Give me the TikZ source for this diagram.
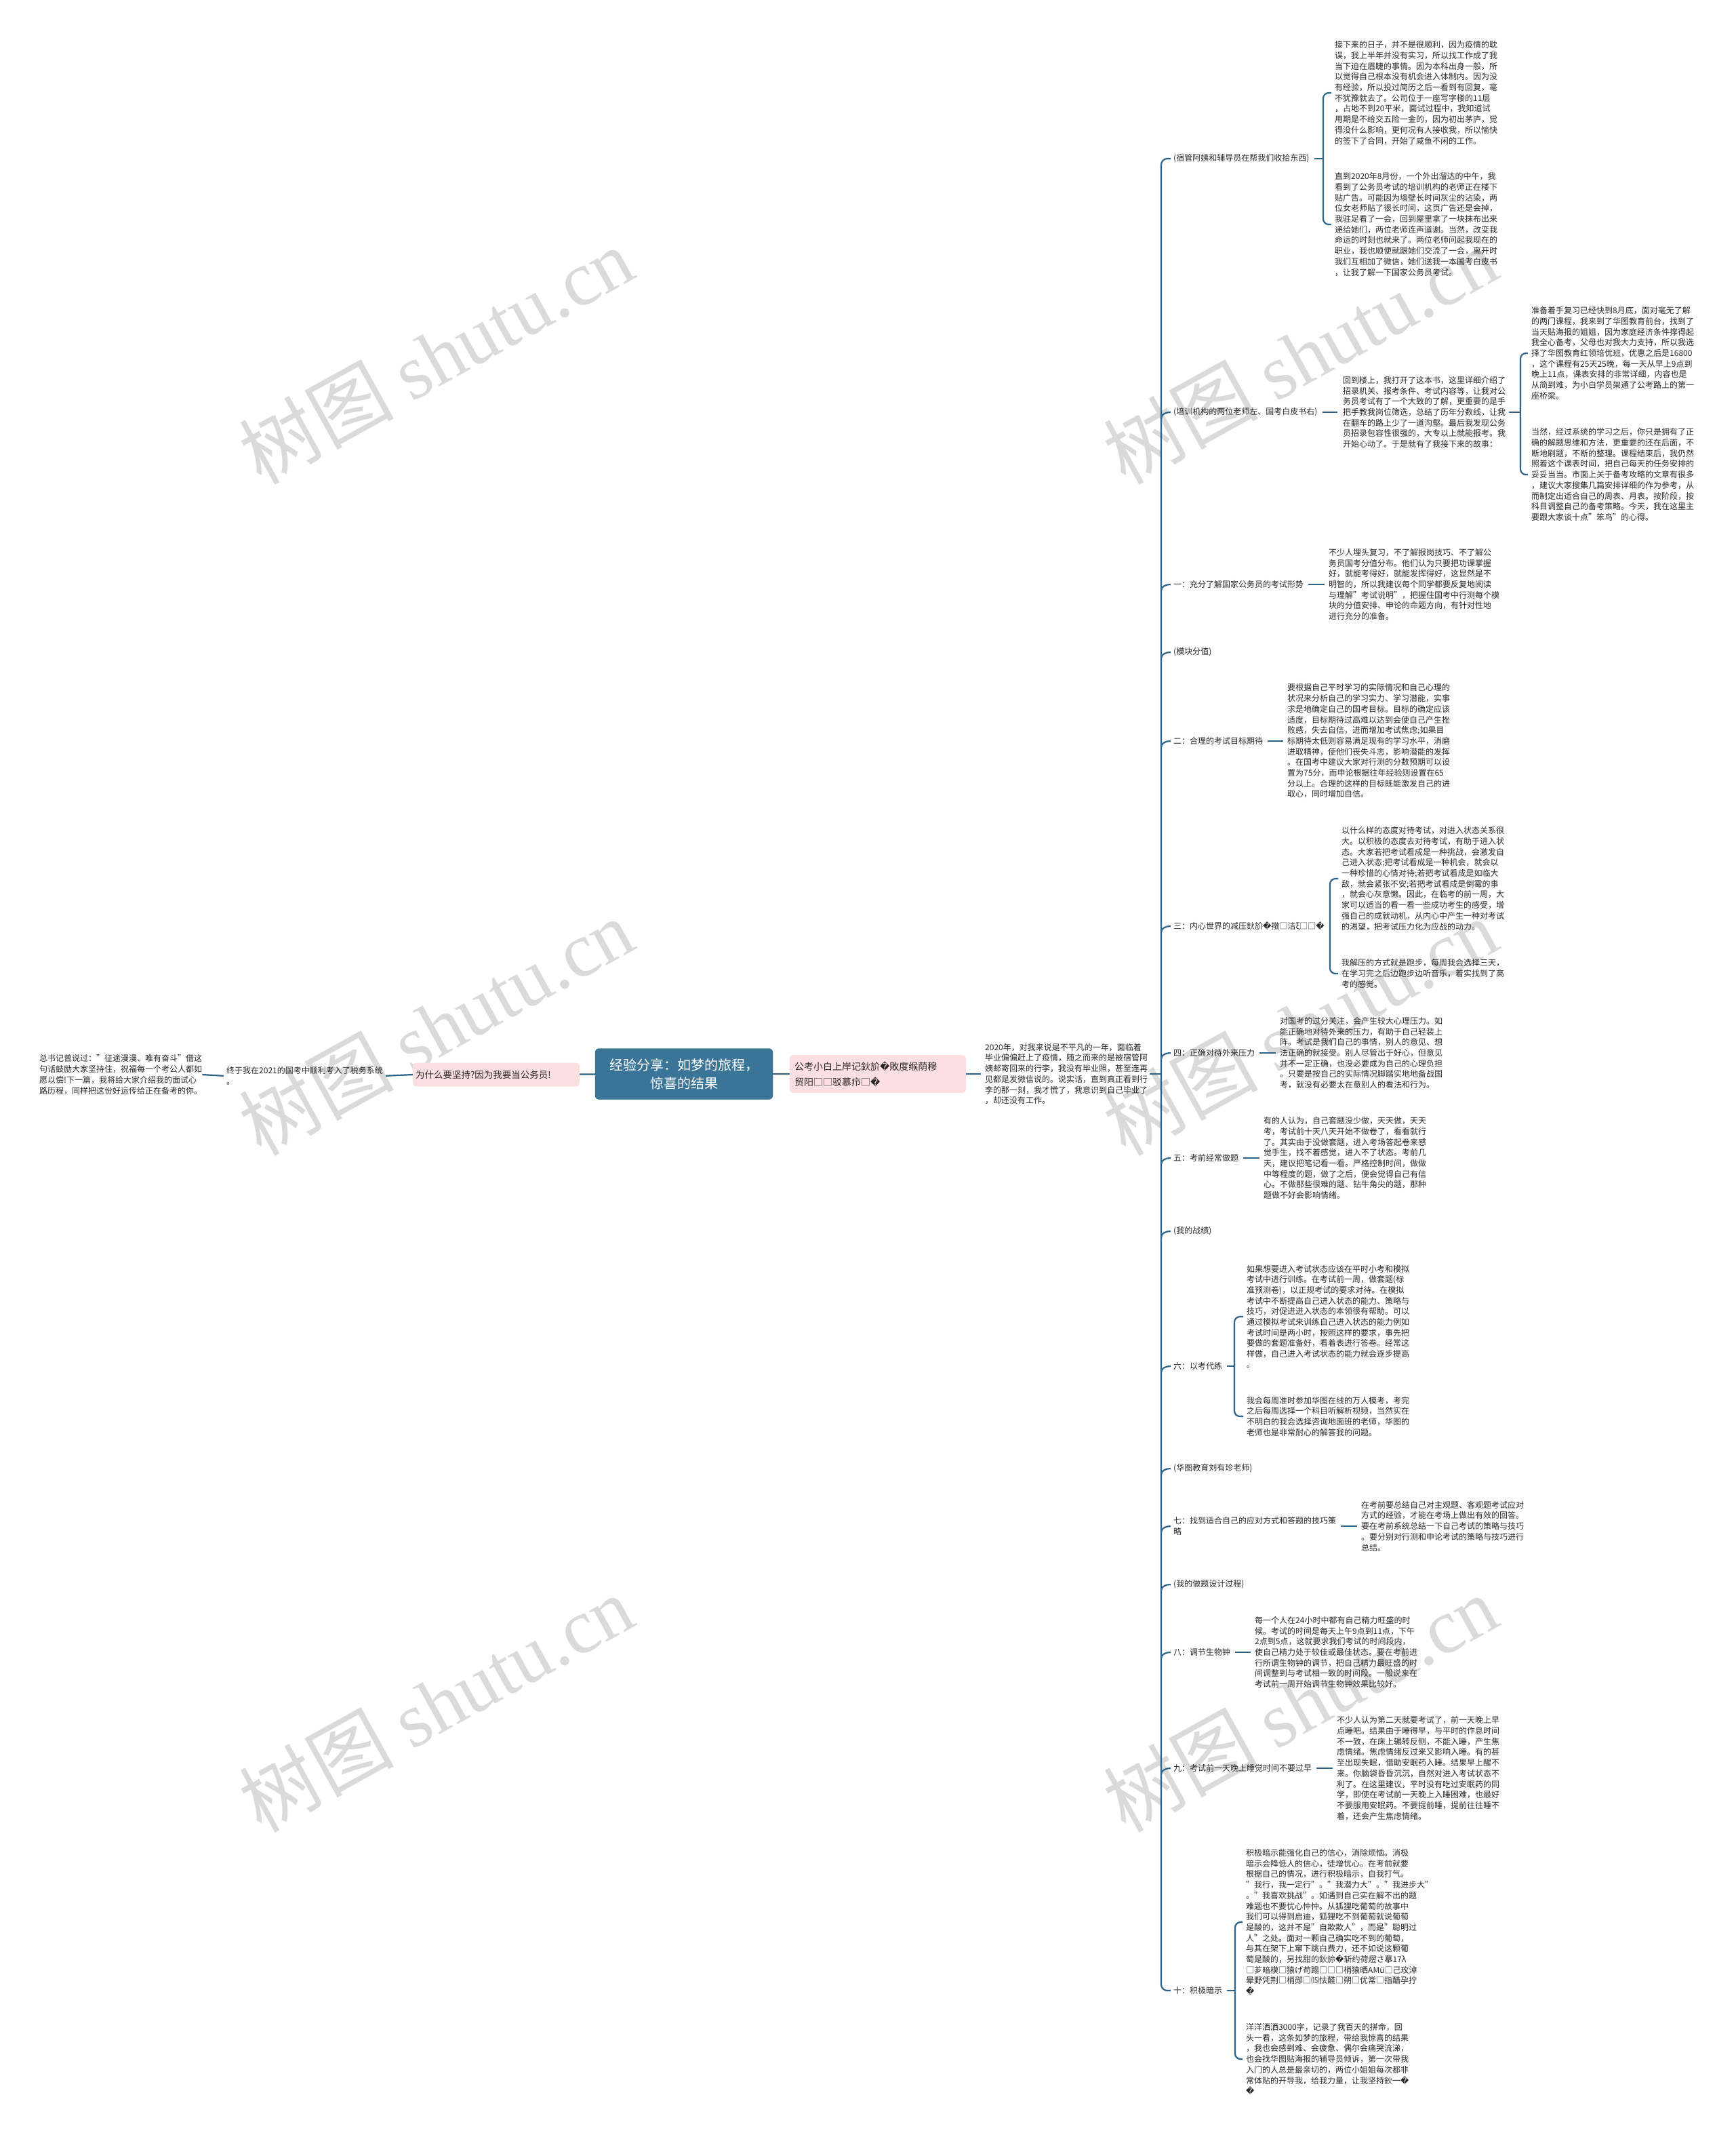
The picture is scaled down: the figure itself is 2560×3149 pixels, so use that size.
\documentclass[tikz,border=0pt]{standalone}
\usepackage{fontspec}
\setmainfont{Noto Sans CJK SC}
\newfontfamily\dejavu{DejaVu Sans}
\newfontfamily\wmserif{Liberation Serif}
\newcommand{\bad}{{\dejavu �}}
\definecolor{linkc}{RGB}{45,99,135}
\definecolor{rootc}{RGB}{58,117,152}
\definecolor{pinkc}{RGB}{252,224,225}
\definecolor{inkc}{RGB}{40,40,40}
\definecolor{markc}{RGB}{218,218,218}

\begin{document}
\begin{tikzpicture}[
  x=1pt, y=-1pt,
  link/.style={draw=linkc, line width=2.2pt},
  memo/.style={anchor=west, align=left, inner sep=0pt, text=inkc, font=\fontsize{12}{15.7}\selectfont},
  topic/.style={memo},
  rootbox/.style={fill=rootc, draw=rootc!85!black, rounded corners=6pt, text=white, align=center,
    font=\fontsize{20}{27}\selectfont, minimum width=262pt, minimum height=75pt, inner sep=0pt},
  pinkbox/.style={fill=pinkc, rounded corners=5pt, text=inkc, align=left, inner ysep=0pt,
    font=\fontsize{13.5}{23}\selectfont},
  wmark/.style={rotate=29, text=markc, font=\fontsize{114}{114}\selectfont}
]
\useasboundingbox[fill=white] (0,0) rectangle (2560,3149);

% watermarks
\foreach \wx/\wy in {643/524, 1918/524, 643/1514, 1918/1514, 643/2512, 1918/2512}
  \node[wmark] at (\wx,\wy) {树图 {\wmserif shutu.cn}};

% centre and left side
\node[rootbox] (root) at (1009,1584) {经验分享：如梦的旅程，\\惊喜的结果};
\node[pinkbox, text width=238pt, inner xsep=4pt, minimum height=35pt] (why) at (732,1585) {为什么要坚持?因为我要当公务员!};
\node[memo] (done) at (334,1587) {终于我在2021的国考中顺利考入了税务系统\\。};
\node[memo] (quote) at (58,1585) {总书记曾说过："征途漫漫、唯有奋斗"借这\\句话鼓励大家坚持住，祝福每一个考公人都如\\愿以偿!下一篇，我将给大家介绍我的面试心\\路历程，同样把这份好运传给正在备考的你。};

\draw[link] (root) -- (why);
\draw[link, shorten <=4pt] (done.east) -- (why.west);
\draw[link, shorten >=4pt] (quote.east) -- (done.west);

% right side
\node[pinkbox, text width=246pt, inner xsep=7pt, minimum height=56pt, font=\fontsize{14}{23}\selectfont] (title) at (1295,1584) {公考小白上岸记鈥斺\bad 敗度缑荫穆\\贸阳□□驳慕疖□\bad};
\node[memo] (intro) at (1453,1584) {2020年，对我来说是不平凡的一年，面临着\\毕业偏偏赶上了疫情，随之而来的是被宿管阿\\姨邮寄回来的行李，我没有毕业照，甚至连再\\见都是发微信说的。说实话，直到真正看到行\\李的那一刻，我才慌了，我意识到自己毕业了\\，却还没有工作。};
\coordinate (sp) at (1713,1584);
\draw[link] (root) -- (title);
\draw[link, shorten >=6pt] (title.east) -- (intro.west);
\draw[link, shorten <=3pt] (intro.east) -- (sp);

% branch labels
\node[topic] (lab1) at (1731,234) {(宿管阿姨和辅导员在帮我们收拾东西)};
\node[topic] (lab2) at (1731,608) {(培训机构的两位老师左、国考白皮书右)};
\node[topic] (lab3) at (1731,862) {一：充分了解国家公务员的考试形势};
\node[topic] (lab4) at (1731,962) {(模块分值)};
\node[topic] (lab5) at (1731,1093) {二：合理的考试目标期待};
\node[topic] (lab6) at (1731,1366) {三：内心世界的减压鈥斺\bad 撴□洁ξ□□\bad};
\node[topic] (lab7) at (1731,1553) {四：正确对待外来压力};
\node[topic] (lab8) at (1731,1708) {五：考前经常做题};
\node[topic] (lab9) at (1731,1816) {(我的战绩)};
\node[topic] (lab10) at (1731,2015) {六：以考代练};
\node[topic] (lab11) at (1731,2166) {(华图教育刘有珍老师)};
\node[topic] (lab12) at (1731,2251) {七：找到适合自己的应对方式和答题的技巧策\\略};
\node[topic] (lab13) at (1731,2337) {(我的做题设计过程)};
\node[topic] (lab14) at (1731,2437) {八：调节生物钟};
\node[topic] (lab15) at (1731,2608) {九：考试前一天晚上睡觉时间不要过早};
\node[topic] (lab16) at (1731,2936) {十：积极暗示};

\draw[link, rounded corners=9pt] ([xshift=-4pt]lab1.west) -| (sp) |- ([xshift=-4pt]lab16.west);
\foreach \n in {lab2,lab3,lab4,lab5,lab6,lab7,lab8,lab9,lab10,lab11,lab12,lab13,lab14,lab15}
  \draw[link] ([yshift=-9pt]sp |- \n.west) to[out=90,in=180] ([xshift=-4pt]\n.west);

% detail texts
\node[memo] (txt1a) at (1969,137) {接下来的日子，并不是很顺利，因为疫情的耽\\误，我上半年并没有实习，所以找工作成了我\\当下迫在眉睫的事情。因为本科出身一般，所\\以觉得自己根本没有机会进入体制内。因为没\\有经验，所以投过简历之后一看到有回复，毫\\不犹豫就去了。公司位于一座写字楼的11层\\，占地不到20平米，面试过程中，我知道试\\用期是不给交五险一金的，因为初出茅庐，觉\\得没什么影响，更何况有人接收我，所以愉快\\的签下了合同，开始了咸鱼不闲的工作。};
\node[memo] (txt1b) at (1969,331) {直到2020年8月份，一个外出溜达的中午，我\\看到了公务员考试的培训机构的老师正在楼下\\贴广告。可能因为墙壁长时间灰尘的沾染，两\\位女老师贴了很长时间，这页广告还是会掉，\\我驻足看了一会，回到屋里拿了一块抹布出来\\递给她们，两位老师连声道谢。当然，改变我\\命运的时刻也就来了。两位老师问起我现在的\\职业，我也顺便就跟她们交流了一会，离开时\\我们互相加了微信，她们送我一本国考白皮书\\，让我了解一下国家公务员考试。};
\node[memo] (txt2) at (1981,608) {回到楼上，我打开了这本书，这里详细介绍了\\招录机关、报考条件、考试内容等，让我对公\\务员考试有了一个大致的了解，更重要的是手\\把手教我岗位筛选，总结了历年分数线，让我\\在翻车的路上少了一道沟壑。最后我发现公务\\员招录包容性很强的，大专以上就能报考。我\\开始心动了。于是就有了我接下来的故事：};
\node[memo] (txt3a) at (2259,521) {准备着手复习已经快到8月底，面对毫无了解\\的两门课程，我来到了华图教育前台，找到了\\当天贴海报的姐姐，因为家庭经济条件撑得起\\我全心备考，父母也对我大力支持，所以我选\\择了华图教育红领培优班，优惠之后是16800\\，这个课程有25天25晚，每一天从早上9点到\\晚上11点，课表安排的非常详细，内容也是\\从简到难，为小白学员架通了公考路上的第一\\座桥梁。};
\node[memo] (txt3b) at (2259,700) {当然，经过系统的学习之后，你只是拥有了正\\确的解题思维和方法，更重要的还在后面，不\\断地刷题，不断的整理。课程结束后，我仍然\\照着这个课表时间，把自己每天的任务安排的\\妥妥当当。市面上关于备考攻略的文章有很多\\，建议大家搜集几篇安排详细的作为参考，从\\而制定出适合自己的周表、月表。按阶段，按\\科目调整自己的备考策略。今天，我在这里主\\要跟大家谈十点"笨鸟"的心得。};
\node[memo] (txt4) at (1960,862) {不少人埋头复习，不了解报岗技巧、不了解公\\务员国考分值分布。他们认为只要把功课掌握\\好，就能考得好，就能发挥得好，这显然是不\\明智的，所以我建议每个同学都要反复地阅读\\与理解"考试说明"，把握住国考中行测每个模\\块的分值安排、申论的命题方向，有针对性地\\进行充分的准备。};
\node[memo] (txt5) at (1899,1093) {要根据自己平时学习的实际情况和自己心理的\\状况来分析自己的学习实力、学习潜能，实事\\求是地确定自己的国考目标。目标的确定应该\\适度，目标期待过高难以达到会使自己产生挫\\败感，失去自信，进而增加考试焦虑;如果目\\标期待太低则容易满足现有的学习水平，消磨\\进取精神，使他们丧失斗志，影响潜能的发挥\\。在国考中建议大家对行测的分数预期可以设\\置为75分，而申论根据往年经验则设置在65\\分以上。合理的这样的目标既能激发自己的进\\取心，同时增加自信。};
\node[memo] (txt6a) at (1979,1296) {以什么样的态度对待考试，对进入状态关系很\\大。以积极的态度去对待考试，有助于进入状\\态。大家若把考试看成是一种挑战，会激发自\\己进入状态;把考试看成是一种机会，就会以\\一种珍惜的心情对待;若把考试看成是如临大\\敌，就会紧张不安;若把考试看成是倒霉的事\\，就会心灰意懒。因此，在临考的前一周，大\\家可以适当的看一看一些成功考生的感受，增\\强自己的成就动机，从内心中产生一种对考试\\的渴望，把考试压力化为应战的动力。};
\node[memo] (txt6b) at (1979,1436) {我解压的方式就是跑步，每周我会选择三天，\\在学习完之后边跑步边听音乐，着实找到了高\\考的感觉。};
\node[memo] (txt7) at (1888,1553) {对国考的过分关注，会产生较大心理压力。如\\能正确地对待外来的压力，有助于自己轻装上\\阵。考试是我们自己的事情，别人的意见、想\\法正确的就接受。别人尽管出于好心，但意见\\并不一定正确，也没必要成为自己的心理负担\\。只要是按自己的实际情况脚踏实地地备战国\\考，就没有必要太在意别人的看法和行为。};
\node[memo] (txt8) at (1864,1708) {有的人认为，自己套题没少做，天天做，天天\\考，考试前十天八天开始不做卷了，看看就行\\了。其实由于没做套题，进入考场答起卷来感\\觉手生，找不着感觉，进入不了状态。考前几\\天，建议把笔记看一看。严格控制时间，做做\\中等程度的题，做了之后，便会觉得自己有信\\心。不做那些很难的题、钻牛角尖的题，那种\\题做不好会影响情绪。};
\node[memo] (txt10a) at (1839,1942) {如果想要进入考试状态应该在平时小考和模拟\\考试中进行训练。在考试前一周，做套题(标\\准预测卷)，以正规考试的要求对待。在模拟\\考试中不断提高自己进入状态的能力、策略与\\技巧，对促进进入状态的本领很有帮助。可以\\通过模拟考试来训练自己进入状态的能力例如\\考试时间是两小时，按照这样的要求，事先把\\要做的套题准备好，看着表进行答卷。经常这\\样做，自己进入考试状态的能力就会逐步提高\\。};
\node[memo] (txt10b) at (1839,2089) {我会每周准时参加华图在线的万人模考，考完\\之后每周选择一个科目听解析视频，当然实在\\不明白的我会选择咨询地面班的老师，华图的\\老师也是非常耐心的解答我的问题。};
\node[memo] (txt12) at (2008,2251) {在考前要总结自己对主观题、客观题考试应对\\方式的经验，才能在考场上做出有效的回答。\\要在考前系统总结一下自己考试的策略与技巧\\。要分别对行测和申论考试的策略与技巧进行\\总结。};
\node[memo] (txt14) at (1851,2437) {每一个人在24小时中都有自己精力旺盛的时\\候。考试的时间是每天上午9点到11点，下午\\2点到5点，这就要求我们考试的时间段内，\\使自己精力处于较佳或最佳状态。要在考前进\\行所谓生物钟的调节，把自己精力最旺盛的时\\间调整到与考试相一致的时间段。一般说来在\\考试前一周开始调节生物钟效果比较好。};
\node[memo] (txt15) at (1972,2608) {不少人认为第二天就要考试了，前一天晚上早\\点睡吧。结果由于睡得早，与平时的作息时间\\不一致，在床上辗转反侧，不能入睡，产生焦\\虑情绪。焦虑情绪反过来又影响入睡。有的甚\\至出现失眠，借助安眠药入睡。结果早上醒不\\来。你脑袋昏昏沉沉，自然对进入考试状态不\\利了。在这里建议，平时没有吃过安眠药的同\\学，即使在考试前一天晚上入睡困难，也最好\\不要服用安眠药。不要提前睡，提前往往睡不\\着，还会产生焦虑情绪。};
\node[memo] (txt16a) at (1838,2835) {积极暗示能强化自己的信心，消除烦恼。消极\\暗示会降低人的信心，徒增忧心。在考前就要\\根据自己的情况，进行积极暗示，自我打气。\\"我行，我一定行"。"我潜力大"。"我进步大"\\。"我喜欢挑战"。如遇到自己实在解不出的题\\难题也不要忧心忡忡。从狐狸吃葡萄的故事中\\我们可以得到启迪，狐狸吃不到葡萄就说葡萄\\是酸的，这并不是"自欺欺人"，而是"聪明过\\人"之处。面对一颗自己确实吃不到的葡萄，\\与其在架下上窜下跳白费力，还不如说这颗葡\\萄是酸的，另找甜的鈥旀\bad 斩约荷熤さ摹17λ\\□芗暗模□猿げ苟蹋□□□梢猿晒AMü□己玫淖\\晕野凭荆□梢郧□⒂怯醛□朔□优常□指醋孕拧\\\bad};
\node[memo] (txt16b) at (1838,3037) {洋洋洒洒3000字，记录了我百天的拼命，回\\头一看，这条如梦的旅程，带给我惊喜的结果\\，我也会感到难、会疲惫、偶尔会痛哭流涕，\\也会找华图贴海报的辅导员倾诉，第一次带我\\入门的人总是最亲切的，两位小姐姐每次都非\\常体贴的开导我，给我力量，让我坚持鈥一\bad\\\bad};

% single links
\foreach \a/\b in {lab3/txt4, lab5/txt5, lab7/txt7, lab8/txt8, lab12/txt12, lab14/txt14, lab15/txt15}
  \draw[link, shorten <=7pt, shorten >=6pt] (\a.east) -- (\b.west);

% brackets
\coordinate (br1) at (1952,234);
\coordinate (br2) at (2243,608);
\coordinate (br6) at (1962,1366);
\coordinate (br10) at (1821,2015);
\coordinate (br16) at (1822,2936);
\draw[link, shorten <=7pt] (lab1.east) -- (br1);
\draw[link, shorten <=7pt, shorten >=8pt] (lab2.east) -- (txt2.west);
\draw[link, shorten <=5pt] (txt2.east) -- (br2);
\draw[link, shorten <=7pt] (lab6.east) -- (br6);
\draw[link, shorten <=7pt] (lab10.east) -- (br10);
\draw[link, shorten <=7pt] (lab16.east) -- (br16);
\draw[link, rounded corners=8pt] ([xshift=-5pt]txt1a.west) -| (br1) |- ([xshift=-5pt]txt1b.west);
\draw[link, rounded corners=8pt] ([xshift=-5pt]txt3a.west) -| (br2) |- ([xshift=-5pt]txt3b.west);
\draw[link, rounded corners=8pt] ([xshift=-5pt]txt6a.west) -| (br6) |- ([xshift=-5pt]txt6b.west);
\draw[link, rounded corners=8pt] ([xshift=-5pt]txt10a.west) -| (br10) |- ([xshift=-5pt]txt10b.west);
\draw[link, rounded corners=8pt] ([xshift=-5pt]txt16a.west) -| (br16) |- ([xshift=-5pt]txt16b.west);
\end{tikzpicture}
\end{document}
